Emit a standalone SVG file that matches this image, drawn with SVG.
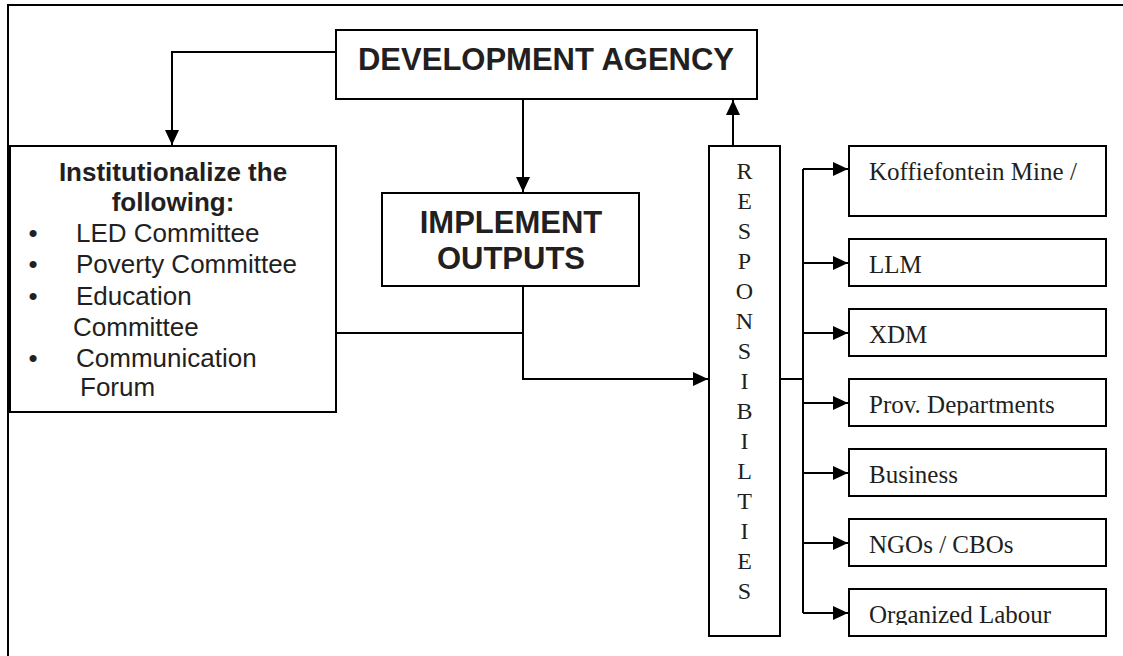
<svg xmlns="http://www.w3.org/2000/svg" width="1123" height="656" viewBox="0 0 1123 656">
<style>
.box{fill:#fff;stroke:#000;stroke-width:2}
.ln{fill:none;stroke:#000;stroke-width:2}
.ab{font-family:"Liberation Sans",Arial,sans-serif;font-weight:bold;fill:#231f20}
.a{font-family:"Liberation Sans",Arial,sans-serif;fill:#231f20;font-size:26px}
.t{font-family:"Liberation Serif","Times New Roman",serif;fill:#231f20;font-size:25px}
.v{font-family:"Liberation Serif","Times New Roman",serif;fill:#231f20;font-size:24px;text-anchor:middle}
</style>
<defs>
<marker id="arr" markerUnits="userSpaceOnUse" markerWidth="16" markerHeight="14" refX="15" refY="7" orient="auto">
<path d="M0,0 L15,7 L0,14 z" fill="#000"/>
</marker>
<clipPath id="clipProv"><rect x="849" y="379" width="257" height="36.5"/></clipPath>
<clipPath id="clipOrg"><rect x="849" y="589" width="257" height="36"/></clipPath>
</defs>
<rect x="0" y="0" width="1123" height="656" fill="#fff"/>
<rect id="frame" x="8" y="5" width="1200" height="700" fill="none" stroke="#000" stroke-width="2"/>

<g id="connectors">
<path class="ln" d="M335,52 H172 V145" marker-end="url(#arr)"/>
<path class="ln" d="M523,99 V192" marker-end="url(#arr)"/>
<path class="ln" d="M733,146 V100" marker-end="url(#arr)"/>
<path class="ln" d="M336,333 H523"/>
<path class="ln" d="M523,286 V379 H708" marker-end="url(#arr)"/>
<path class="ln" d="M780,379 H803"/>
<path class="ln" d="M803,169 V613"/>
<path class="ln" d="M803,169 H848" marker-end="url(#arr)"/>
<path class="ln" d="M803,263 H848" marker-end="url(#arr)"/>
<path class="ln" d="M803,333 H848" marker-end="url(#arr)"/>
<path class="ln" d="M803,403 H848" marker-end="url(#arr)"/>
<path class="ln" d="M803,473 H848" marker-end="url(#arr)"/>
<path class="ln" d="M803,543 H848" marker-end="url(#arr)"/>
<path class="ln" d="M803,613 H848" marker-end="url(#arr)"/>
</g>

<g id="dev-agency">
<rect class="box" x="336" y="30" width="421" height="69"/>
<text class="ab" x="546" y="70" font-size="31" text-anchor="middle">DEVELOPMENT AGENCY</text>
</g>

<g id="institutionalize">
<rect class="box" x="10" y="146" width="326" height="266"/>
<text class="ab" x="173" y="181" font-size="26" text-anchor="middle">Institutionalize the</text>
<text class="ab" x="173" y="211" font-size="26" text-anchor="middle">following:</text>
<text class="a" x="33" y="242" text-anchor="middle">•</text>
<text class="a" x="76" y="242">LED Committee</text>
<text class="a" x="33" y="273" text-anchor="middle">•</text>
<text class="a" x="76" y="273">Poverty Committee</text>
<text class="a" x="33" y="305" text-anchor="middle">•</text>
<text class="a" x="76" y="305">Education</text>
<text class="a" x="73" y="336">Committee</text>
<text class="a" x="33" y="367" text-anchor="middle">•</text>
<text class="a" x="76" y="367">Communication</text>
<text class="a" x="80" y="396">Forum</text>
</g>

<g id="implement">
<rect class="box" x="382" y="193" width="257" height="93"/>
<text class="ab" x="511" y="233" font-size="31" text-anchor="middle">IMPLEMENT</text>
<text class="ab" x="511" y="269" font-size="31" text-anchor="middle">OUTPUTS</text>
</g>

<g id="responsibilities">
<rect class="box" x="709" y="146" width="71" height="490"/>
<text class="v" x="744.5" y="179">R</text>
<text class="v" x="744.5" y="209">E</text>
<text class="v" x="744.5" y="239">S</text>
<text class="v" x="744.5" y="269">P</text>
<text class="v" x="744.5" y="299">O</text>
<text class="v" x="744.5" y="329">N</text>
<text class="v" x="744.5" y="359">S</text>
<text class="v" x="744.5" y="389">I</text>
<text class="v" x="744.5" y="419">B</text>
<text class="v" x="744.5" y="449">I</text>
<text class="v" x="744.5" y="479">L</text>
<text class="v" x="744.5" y="509">T</text>
<text class="v" x="744.5" y="539">I</text>
<text class="v" x="744.5" y="569">E</text>
<text class="v" x="744.5" y="599">S</text>
</g>

<g id="koffiefontein">
<rect class="box" x="849" y="146" width="257" height="70"/>
<text class="t" x="869" y="180">Koffiefontein Mine /</text>
</g>
<g id="llm">
<rect class="box" x="849" y="239" width="257" height="47"/>
<text class="t" x="869" y="273">LLM</text>
</g>
<g id="xdm">
<rect class="box" x="849" y="309" width="257" height="47"/>
<text class="t" x="869" y="343">XDM</text>
</g>
<g id="prov">
<rect class="box" x="849" y="379" width="257" height="47"/>
<text class="t" x="869" y="413" clip-path="url(#clipProv)">Prov. Departments</text>
</g>
<g id="business">
<rect class="box" x="849" y="449" width="257" height="47"/>
<text class="t" x="869" y="483">Business</text>
</g>
<g id="ngos">
<rect class="box" x="849" y="519" width="257" height="47"/>
<text class="t" x="869" y="553">NGOs / CBOs</text>
</g>
<g id="labour">
<rect class="box" x="849" y="589" width="257" height="47"/>
<text class="t" x="869" y="623" clip-path="url(#clipOrg)">Organized Labour</text>
</g>
</svg>
